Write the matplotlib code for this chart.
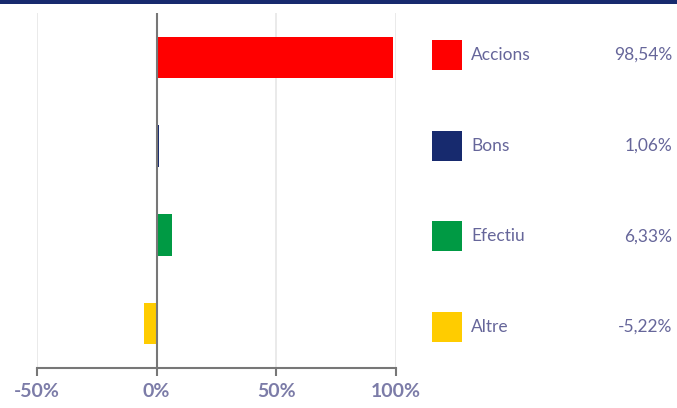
import matplotlib.pyplot as plt
from matplotlib.patches import Rectangle

# dades
categories = ['Accions', 'Bons', 'Efectiu', 'Altre']
values = [98.54, 1.06, 6.33, -5.22]
value_labels = ['98,54%', '1,06%', '6,33%', '-5,22%']
colors = ['#ff0000', '#172a6e', '#009a44', '#ffcc00']
xticks = [-50, 0, 50, 100]
xtick_labels = ['-50%', '0%', '50%', '100%']

text_color = '#66669a'
W, H = 677, 408

fig = plt.figure(figsize=(W / 100, H / 100), dpi=100)
plt.rcParams['font.family'] = ['Lato', 'DejaVu Sans']

# franja superior
fig.patches.append(Rectangle((0, 1 - 3.5 / H), 1, 3.5 / H, transform=fig.transFigure,
                             facecolor='#172a6e', edgecolor='none'))

ax = fig.add_axes([37 / W, (H - 368) / H, (396 - 37) / W, (368 - 13) / H])
ypos = list(range(len(categories)))
ax.barh(ypos, values, height=0.47, color=colors, zorder=3)
ax.set_xlim(-50, 100)
ax.set_ylim(len(categories) - 0.5, -0.5)

for x in xticks:
    if x == 0:
        ax.axvline(x, color='#777777', lw=1.5, zorder=4)
    else:
        ax.axvline(x, color='#e6e6e6', lw=1.2, zorder=1)

for s in ['top', 'right', 'left']:
    ax.spines[s].set_visible(False)
ax.spines['bottom'].set_color('#777777')
ax.spines['bottom'].set_linewidth(1.5)
ax.set_yticks([])
ax.set_xticks(xticks)
ax.set_xticklabels(xtick_labels, fontsize=14, color='#7c7ca8', fontweight='bold')
ax.tick_params(axis='x', length=6, width=1.5, color='#777777', pad=5)

# llegenda
for i, (cat, lab, col) in enumerate(zip(categories, value_labels, colors)):
    yc = 1 - (55 + i * 90.7) / H
    fig.patches.append(Rectangle((432 / W, yc - 15 / H), 30 / W, 30 / H,
                                 transform=fig.transFigure, facecolor=col, edgecolor='none'))
    fig.text(471 / W, yc, cat, fontsize=12.5, color=text_color, va='center', ha='left')
    fig.text(672 / W, yc, lab, fontsize=12.5, color=text_color, va='center', ha='right')

fig.savefig('out.png', dpi=100)
